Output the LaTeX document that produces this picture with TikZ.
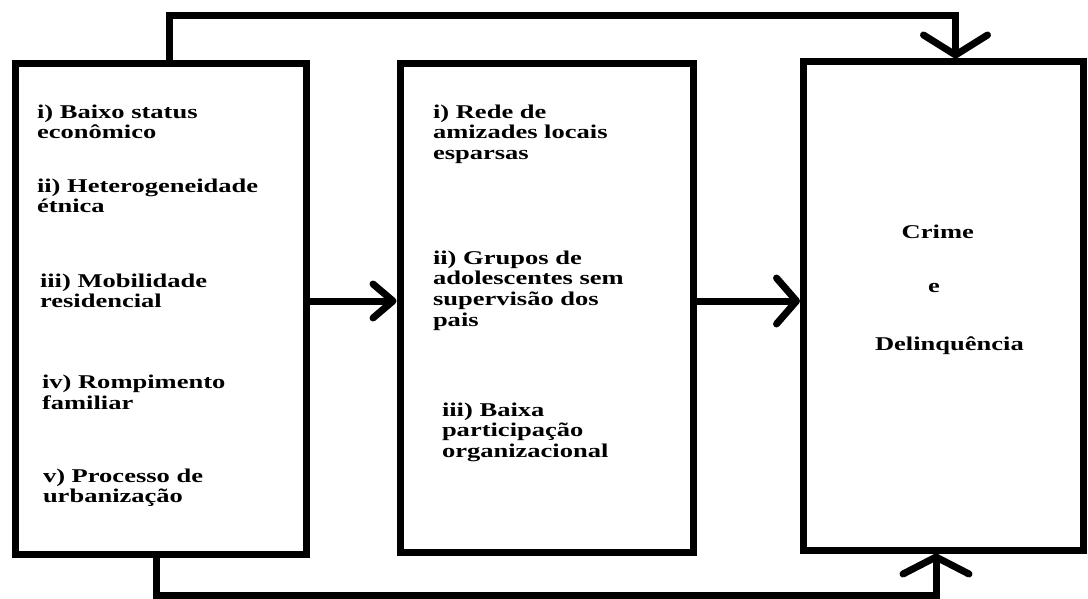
\documentclass[tikz,border=0pt]{standalone}
\usepackage{fontspec}
\newfontfamily\fnt[FakeStretch=1.36]{Liberation Serif}
\usetikzlibrary{arrows.meta}
\newcommand\txtblk[2]{\parbox[t]{260pt}{\raggedright\fnt\bfseries\fontsize{19.5}{#1}\selectfont #2}}
\begin{document}
\begin{tikzpicture}[x=1pt, y=-1pt,
  box/.style={draw, line width=7pt, inner sep=0pt},
  txt/.style={anchor=base west, inner sep=0pt, outer sep=0pt},
  conn/.style={line width=7pt},
  barb/.style 2 args={-{Straight Barb[length=#1pt,width=#2pt,round]}}]
\fill[white] (0,0) rectangle (1088,599);
\useasboundingbox (0,0) rectangle (1088,599);

\node[box, minimum width=290.5pt, minimum height=490pt] (b1) at (160.75,309) {};
\node[box, minimum width=293pt, minimum height=488pt] (b2) at (546.5,308) {};
\node[box, minimum width=280pt, minimum height=488pt] (b3) at (943.5,306) {};

% box 1 texts
\node[txt] (t11) at (37,119) {\txtblk{19.5pt}{i) Baixo status\\econômico}};
\node[txt] (t12) at (37,193) {\txtblk{20pt}{ii) Heterogeneidade\\étnica}};
\node[txt] (t13) at (40,287.5) {\txtblk{20pt}{iii) Mobilidade\\residencial}};
\node[txt] (t14) at (42,388.5) {\txtblk{20.5pt}{iv) Rompimento\\familiar}};
\node[txt] (t15) at (43,482.7) {\txtblk{20pt}{v) Processo de\\urbanização}};

% box 2 texts
\node[txt] (t21) at (433,118.3) {\txtblk{20.5pt}{i) Rede de\\amizades locais\\esparsas}};
\node[txt] (t22) at (433,264) {\txtblk{20.8pt}{ii) Grupos de\\adolescentes sem\\supervisão dos\\pais}};
\node[txt] (t23) at (442,416) {\txtblk{20.8pt}{iii) Baixa\\participação\\organizacional}};

% box 3 texts
\node[txt] (t31) at (901.7,239) {\txtblk{20pt}{Crime}};
\node[txt] (t32) at (928,292.3) {\txtblk{20pt}{e}};
\node[txt] (t33) at (875,350) {\txtblk{20pt}{Delinquência}};

% connectors
\coordinate (tl) at (169,15.5);
\coordinate (tr) at (955.5,15.5);
\draw[conn, barb={20}{64}] (b1.north -| tl) -- (tl) -- (tr) -- (b3.north -| tr);

\coordinate (bl) at (156,595.5);
\coordinate (br) at (936,595.5);
\draw[conn, barb={17}{66}] (b1.south -| bl) -- (bl) -- (br) -- (b3.south -| br);

\coordinate (m1) at (0,301);
\draw[conn, barb={20}{34}] (b1.east |- m1) -- (b2.west |- m1);
\draw[conn, barb={20}{46}] (b2.east |- m1) -- (b3.west |- m1);
\end{tikzpicture}
\end{document}
